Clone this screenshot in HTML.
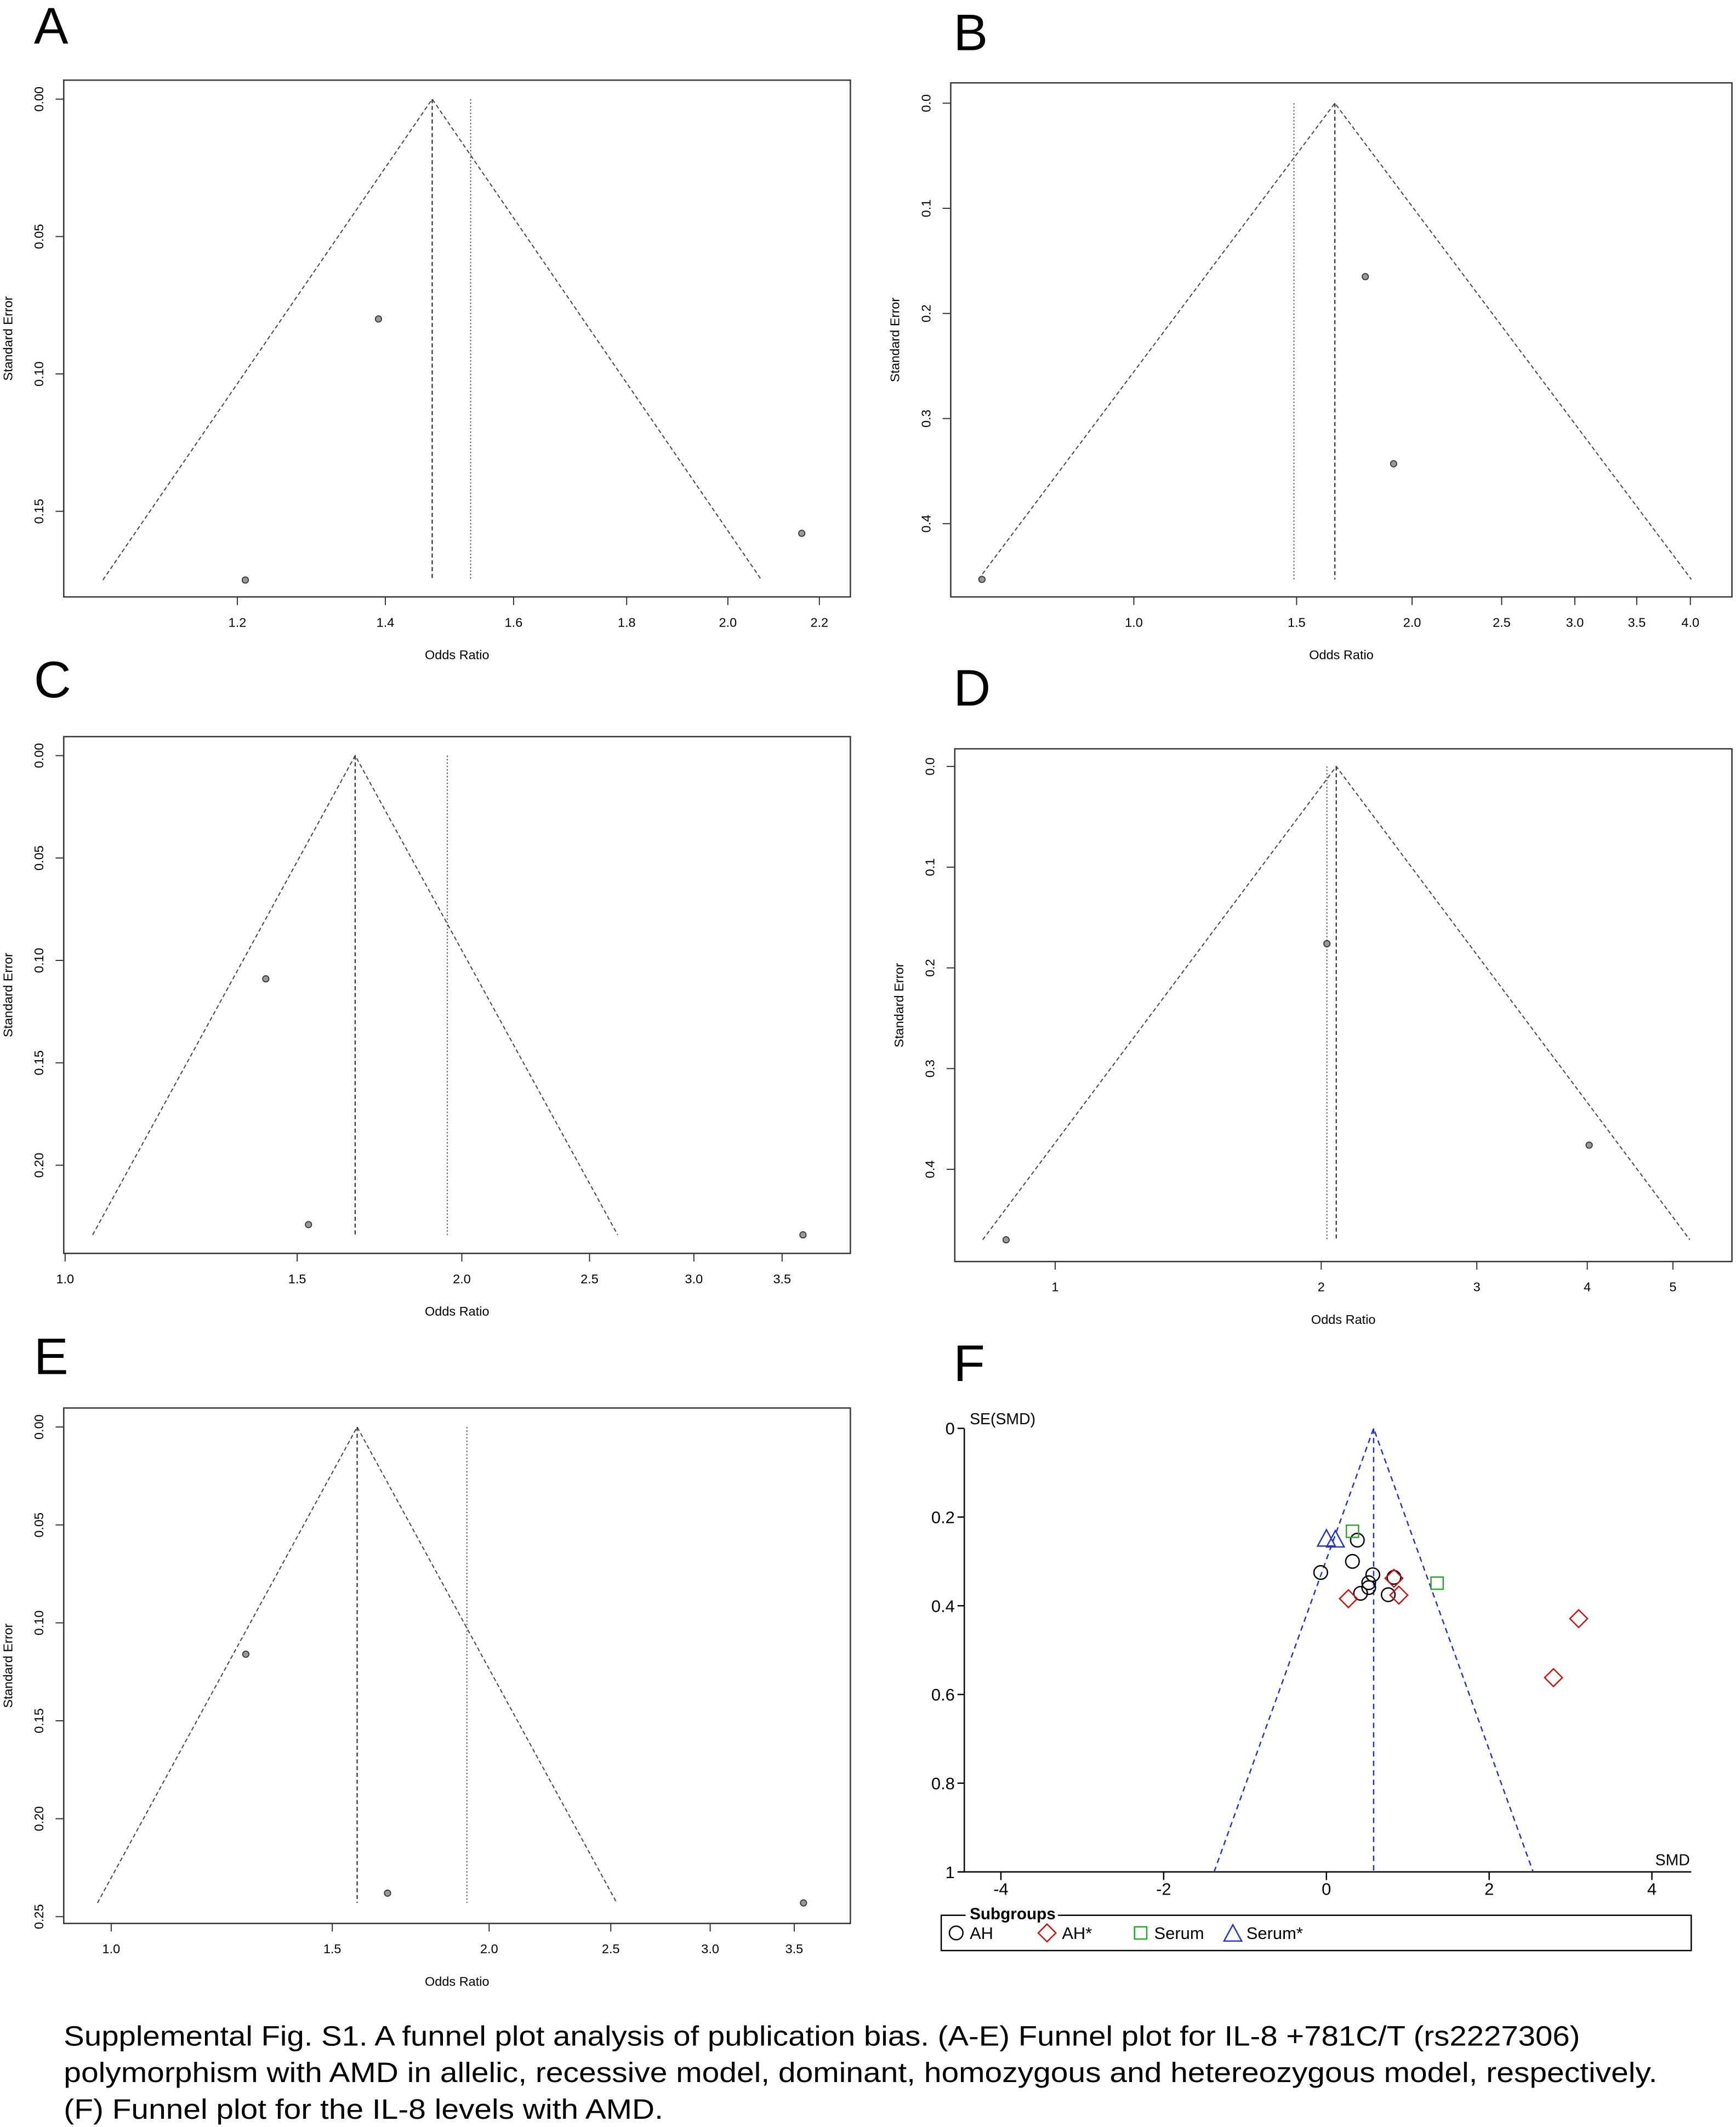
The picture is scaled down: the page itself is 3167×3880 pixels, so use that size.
<!DOCTYPE html>
<html><head><meta charset="utf-8"><style>html,body{margin:0;padding:0;background:#fff}svg{display:block}</style></head>
<body>
<svg id="fig" xmlns="http://www.w3.org/2000/svg" width="3167" height="3880" viewBox="0 0 1280 1568" font-family="Liberation Sans, sans-serif">
<rect width="1280" height="1568" fill="#fff"/>
<g id="root"></g>
<text x="47" y="1508" font-size="20.5" textLength="1118" lengthAdjust="spacingAndGlyphs">Supplemental Fig. S1. A funnel plot analysis of publication bias. (A-E) Funnel plot for IL-8 +781C/T (rs2227306)</text>
<text x="47" y="1535" font-size="20.5" textLength="1175" lengthAdjust="spacingAndGlyphs">polymorphism with AMD in allelic, recessive model, dominant, homozygous and hetereozygous model, respectively.</text>
<text x="47" y="1562" font-size="20.5" textLength="442" lengthAdjust="spacingAndGlyphs">(F) Funnel plot for the IL-8 levels with AMD.</text>
</svg>
<script>
// ---- Panel data ----
const orA=[1.39,1.21,2.16], seA=[0.080,0.175,0.158], pooledA=1.47, fixedA=1.53;
const xTicksA=[1.2,1.4,1.6,1.8,2.0,2.2], xLabA=["1.2","1.4","1.6","1.8","2.0","2.2"];
const yTicksA=[0,0.05,0.10,0.15], yLabA=["0.00","0.05","0.10","0.15"];

const orB=[1.78,1.91,0.685], seB=[0.165,0.343,0.453], pooledB=1.65, fixedB=1.49;
const xTicksB=[1.0,1.5,2.0,2.5,3.0,3.5,4.0], xLabB=["1.0","1.5","2.0","2.5","3.0","3.5","4.0"];
const yTicksB=[0,0.1,0.2,0.3,0.4], yLabB=["0.0","0.1","0.2","0.3","0.4"];

const orC=[1.42,1.53,3.63], seC=[0.109,0.229,0.234], pooledC=1.66, fixedC=1.95;
const xTicksC=[1.0,1.5,2.0,2.5,3.0,3.5], xLabC=["1.0","1.5","2.0","2.5","3.0","3.5"];
const yTicksC=[0,0.05,0.10,0.15,0.20], yLabC=["0.00","0.05","0.10","0.15","0.20"];

const orD=[2.03,4.02,0.88], seD=[0.176,0.376,0.470], pooledD=2.08, fixedD=2.03;
const xTicksD=[1,2,3,4,5], xLabD=["1","2","3","4","5"];
const yTicksD=[0,0.1,0.2,0.3,0.4], yLabD=["0.0","0.1","0.2","0.3","0.4"];

const orE=[1.28,1.66,3.56], seE=[0.116,0.238,0.243], pooledE=1.57, fixedE=1.92;
const xTicksE=[1.0,1.5,2.0,2.5,3.0,3.5], xLabE=["1.0","1.5","2.0","2.5","3.0","3.5"];
const yTicksE=[0,0.05,0.10,0.15,0.20,0.25], yLabE=["0.00","0.05","0.10","0.15","0.20","0.25"];

// Panel F
const smdAH=[0.38,0.32,-0.07,0.57,0.52,0.52,0.42,0.76,0.83];
const seAH=[0.252,0.300,0.325,0.330,0.348,0.359,0.372,0.375,0.336];
const smdAHs=[0.27,0.83,0.89,3.10,2.79];
const seAHs=[0.384,0.338,0.376,0.429,0.562];
const smdSerum=[0.32,1.36];
const seSerum=[0.232,0.349];
const smdSerumS=[0.00,0.11];
const seSerumS=[0.250,0.252];
const pooledF=0.58;
const xTicksF=[-4,-2,0,2,4], xLabF=["-4","-2","0","2","4"];
const yTicksF=[0,0.2,0.4,0.6,0.8,1], yLabF=["0","0.2","0.4","0.6","0.8","1"];

const NS="http://www.w3.org/2000/svg";
const root=document.getElementById('root');
function mk(tag,attrs,parent,txt){const e=document.createElementNS(NS,tag);for(const k in attrs)e.setAttribute(k,attrs[k]);if(txt!==undefined)e.textContent=txt;(parent||root).appendChild(e);return e;}

function rPanel(id,letter,lx,ly,box,xRef,xRefPx,k,yZeroPx,yPerUnit,ors,ses,pooled,fixed,xt,xl,yt,yl){
  const g=mk('g',{});
  
  
  const X=v=>xRefPx+(Math.log(v)-Math.log(xRef))*k;
  const Y=s=>yZeroPx+s*yPerUnit;
  const t=mk('text',{x:lx,y:ly,'font-size':38},g,letter);
  
  
  const r=mk('rect',{x:box[0],y:box[2],width:box[1]-box[0],height:box[3]-box[2],fill:'none',stroke:'#333','stroke-width':1},g);
  
  
  const seMax=Math.max(...ses);
  const lp=Math.log(pooled);
  const fun=mk('polyline',{points:`${X(Math.exp(lp-1.96*seMax))},${Y(seMax)} ${X(pooled)},${Y(0)} ${X(Math.exp(lp+1.96*seMax))},${Y(seMax)}`,fill:'none',stroke:'#444','stroke-width':0.8,'stroke-dasharray':'3,2'},g);
  
  
  const pl=mk('line',{x1:X(pooled),x2:X(pooled),y1:Y(0),y2:Y(seMax),stroke:'#333','stroke-width':0.9,'stroke-dasharray':'3,2'},g);
  
  
  const fl=mk('line',{x1:X(fixed),x2:X(fixed),y1:Y(0),y2:Y(seMax),stroke:'#555','stroke-width':0.8,'stroke-dasharray':'1,1.5'},g);
  
  
  ors.forEach((v,i)=>{
    const c=mk('circle',{cx:X(v),cy:Y(ses[i]),r:2.3,fill:'#999',stroke:'#333','stroke-width':0.7},g);
    
    
  });
  const xa=mk('line',{x1:X(xt[0]),x2:X(xt[xt.length-1]),y1:box[3],y2:box[3],stroke:'#333','stroke-width':0.8},g);
  
  
  xt.forEach((v,i)=>{
    mk('line',{x1:X(v),x2:X(v),y1:box[3],y2:box[3]+6,stroke:'#333','stroke-width':0.8},g);
    const tl=mk('text',{x:X(v),y:box[3]+22,'font-size':9.5,'text-anchor':'middle'},g,xl[i]);
    
    
  });
  const xtl=mk('text',{x:(box[0]+box[1])/2,y:box[3]+46,'font-size':9.5,'text-anchor':'middle'},g,'Odds Ratio');
  
  
  const ya=mk('line',{x1:box[0],x2:box[0],y1:Y(yt[0]),y2:Y(yt[yt.length-1]),stroke:'#333','stroke-width':0.8},g);
  
  
  yt.forEach((v,i)=>{
    mk('line',{x1:box[0]-6,x2:box[0],y1:Y(v),y2:Y(v),stroke:'#333','stroke-width':0.8},g);
    const tl=mk('text',{x:box[0]-15,y:Y(v),'font-size':9.5,'text-anchor':'middle',transform:`rotate(-90 ${box[0]-15} ${Y(v)})`},g,yl[i]);
    
    
  });
  const cy=(box[2]+box[3])/2, cx=box[0]-38;
  const ytl=mk('text',{x:cx,y:cy,'font-size':9.5,'text-anchor':'middle',transform:`rotate(-90 ${cx} ${cy})`},g,'Standard Error');
  
  
}

rPanel('a','A',25,32,[47,627,59,440],1.2,175,708,73,2026,orA,seA,pooledA,fixedA,xTicksA,xLabA,yTicksA,yLabA);
rPanel('b','B',703,37,[701,1277,61,440],1.0,836,296,76,775,orB,seB,pooledB,fixedB,xTicksB,xLabB,yTicksB,yLabB);
rPanel('c','C',25,514,[47,627,543,924],1.0,48,422,557,1510,orC,seC,pooledC,fixedC,xTicksC,xLabC,yTicksC,yLabC);
rPanel('d','D',703,520,[704,1277,552,930],1.0,778,283,565,742.5,orD,seD,pooledD,fixedD,xTicksD,xLabD,yTicksD,yLabD);
rPanel('e','E',25,1013,[47,627,1038,1418],1.0,82,402,1052,1444,orE,seE,pooledE,fixedE,xTicksE,xLabE,yTicksE,yLabE);

// ---- Panel F ----
(function(){
  const g=mk('g',{});
  
  
  const X=v=>978+v*60, Y=s=>1053+s*327;
  const t=mk('text',{x:703,y:1018,'font-size':38},g,'F');
  
  
  const ax=mk('line',{x1:707,x2:1247,y1:Y(1),y2:Y(1),stroke:'#000','stroke-width':1},g);
  
  
  const ay=mk('line',{x1:711,x2:711,y1:Y(0),y2:Y(1),stroke:'#000','stroke-width':1},g);
  
  
  const FF='Liberation Sans Narrow, Liberation Sans, sans-serif';
  xTicksF.forEach((v,i)=>{
    mk('line',{x1:X(v),x2:X(v),y1:Y(1),y2:Y(1)+6,stroke:'#000','stroke-width':1},g);
    const tl=mk('text',{x:X(v),y:Y(1)+17,'font-size':12.5,'text-anchor':'middle','font-family':FF},g,xLabF[i]);
    
    
  });
  yTicksF.forEach((v,i)=>{
    mk('line',{x1:706,x2:711,y1:Y(v),y2:Y(v),stroke:'#000','stroke-width':1},g);
    const tl=mk('text',{x:704,y:Y(v)+4.5,'font-size':12.5,'text-anchor':'end','font-family':FF},g,yLabF[i]);
    
    
  });
  const yt=mk('text',{x:715,y:1050,'font-size':11.5,'font-family':FF},g,'SE(SMD)');
  
  
  const xt=mk('text',{x:1246,y:1375,'font-size':11.5,'text-anchor':'end','font-family':FF},g,'SMD');
  
  
  const fun=mk('polyline',{points:`${X(pooledF-1.96)},${Y(1)} ${X(pooledF)},${Y(0)} ${X(pooledF+1.96)},${Y(1)}`,fill:'none',stroke:'#2233cc','stroke-width':1,'stroke-dasharray':'4,3'},g);
  
  
  const pl=mk('line',{x1:X(pooledF),x2:X(pooledF),y1:Y(0),y2:Y(1),stroke:'#2233cc','stroke-width':1,'stroke-dasharray':'4,3'},g);
  
  
  function circ(x,y,p){return mk('circle',{cx:x,cy:y,r:5,fill:'none',stroke:'#000','stroke-width':1},p);}
  function diam(x,y,p){return mk('polygon',{points:`${x},${y-6.5} ${x+6.5},${y} ${x},${y+6.5} ${x-6.5},${y}`,fill:'none',stroke:'#cc1111','stroke-width':1},p);}
  function sq(x,y,p){return mk('rect',{x:x-4.5,y:y-4.5,width:9,height:9,fill:'none',stroke:'#22aa22','stroke-width':1},p);}
  function tri(x,y,p){return mk('polygon',{points:`${x},${y-7} ${x+6.5},${y+5} ${x-6.5},${y+5}`,fill:'none',stroke:'#2233cc','stroke-width':1},p);}
  smdAH.forEach((v,i)=>{const e=circ(X(v),Y(seAH[i]),g);
    
    });
  smdAHs.forEach((v,i)=>{const e=diam(X(v),Y(seAHs[i]),g);
    
    });
  smdSerum.forEach((v,i)=>{const e=sq(X(v),Y(seSerum[i]),g);
    
    });
  smdSerumS.forEach((v,i)=>{const e=tri(X(v),Y(seSerumS[i]),g);
    
    });
  const lg=mk('g',{},g);
  
  
  mk('rect',{x:694,y:1412,width:553,height:26,fill:'none',stroke:'#000','stroke-width':1},lg);
  mk('rect',{x:712,y:1405,width:68,height:12,fill:'#fff'},lg);
  const lt=mk('text',{x:715,y:1415,'font-size':12,'font-weight':'bold','font-family':FF},lg,'Subgroups');
  
  
  let e;
  e=circ(705,1425,lg);  
  e=mk('text',{x:715,y:1429.5,'font-size':12.5,'font-family':FF},lg,'AH');
   
  e=diam(772,1425,lg);  
  e=mk('text',{x:783,y:1429.5,'font-size':12.5,'font-family':FF},lg,'AH*');
   
  e=sq(841,1425,lg);  
  e=mk('text',{x:851,y:1429.5,'font-size':12.5,'font-family':FF},lg,'Serum');
   
  e=tri(909,1426,lg);  
  e=mk('text',{x:919,y:1429.5,'font-size':12.5,'font-family':FF},lg,'Serum*');
   
})();
</script>
</body></html>
